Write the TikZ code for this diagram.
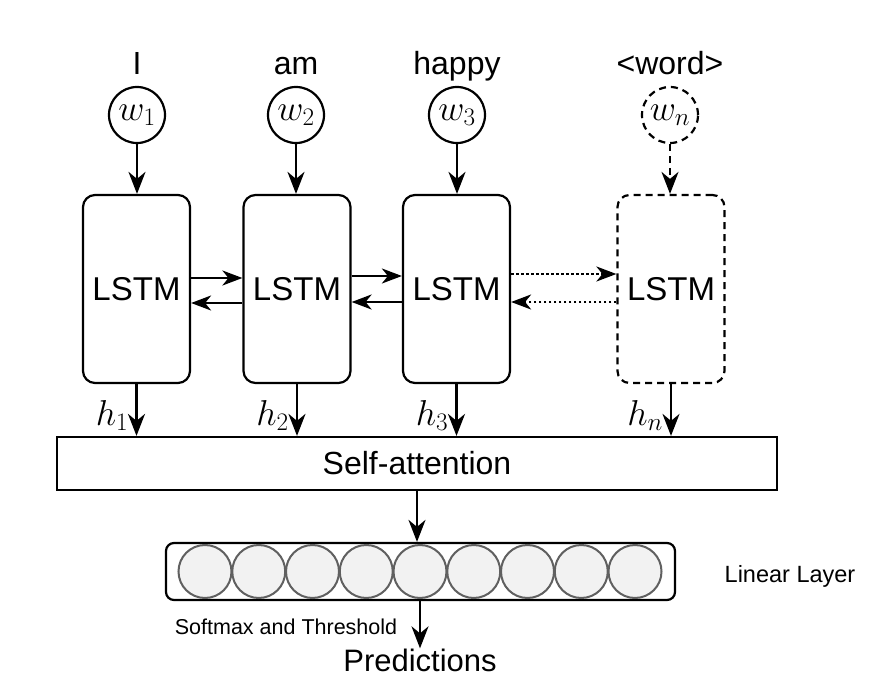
\RequirePackage{fix-cm}
\documentclass[tikz,border=0pt]{standalone}
\usepackage[no-math]{fontspec}
\setmainfont{Liberation Sans}
\usetikzlibrary{arrows.meta}

\tikzset{
  bigtxt/.style={font=\fontsize{32}{36}\selectfont, inner sep=0pt},
  smalltxt/.style={font=\fontsize{21.5}{24}\selectfont, inner sep=0pt},
  wnode/.style={circle, draw, line width=2.2pt, minimum size=56pt, inner sep=0pt,
    font=\fontsize{36}{40}\selectfont},
  lstm/.style={draw, line width=2.2pt, rounded corners=12pt, minimum width=107pt,
    minimum height=188pt, font=\fontsize{33}{36}\selectfont},
  dashpat/.style={dash pattern=on 7pt off 5pt},
  dotpat/.style={dash pattern=on 2.5pt off 2.5pt},
  arr/.style={line width=2.2pt, -{Stealth[length=22pt,width=17pt,inset=7pt]}},
  harr/.style={line width=2.2pt, -{Stealth[length=20pt,width=15pt,inset=6pt]}},
  hlab/.style={font=\fontsize{36}{40}\selectfont, inner sep=0pt, anchor=base east},
  unit/.style={circle, draw=gray!75!black, fill=gray!10, line width=2pt,
    minimum size=53pt, inner sep=0pt}
}

\begin{document}
\begin{tikzpicture}[x=1pt, y=-1pt]
   \useasboundingbox (0,0) rectangle (883,700);

   % input words
   \node[bigtxt, anchor=base] (t1) at (137,75) {I};
   \node[bigtxt, anchor=base] (t2) at (296,75) {am};
   \node[bigtxt, anchor=base] (t3) at (457,75) {happy};
   \node[bigtxt, anchor=base] (t4) at (670,75) {<word>};

   \node[wnode] (w1) at (137,115) {$w_1$};
   \node[wnode] (w2) at (296,115) {$w_2$};
   \node[wnode] (w3) at (457,115) {$w_3$};
   \node[wnode, dashpat] (w4) at (670,115) {$w_n$};

   % LSTM cells
   \node[lstm] (l1) at (136.5,289) {LSTM};
   \node[lstm] (l2) at (297,289) {LSTM};
   \node[lstm] (l3) at (456.5,289) {LSTM};
   \node[lstm, dashpat] (l4) at (671,289) {LSTM};

   \draw[arr] (w1.south) -- (w1.south |- l1.north);
   \draw[arr] (w2.south) -- (w2.south |- l2.north);
   \draw[arr] (w3.south) -- (w3.south |- l3.north);
   \draw[arr, dashpat] (w4.south) -- (w4.south |- l4.north);

   \draw[harr] ([yshift=11pt]l1.east) -- ([yshift=11pt]l2.west);
   \draw[harr] ([yshift=-14pt]l2.west) -- ([yshift=-14pt]l1.east);
   \draw[harr] ([yshift=13pt]l2.east) -- ([yshift=13pt]l3.west);
   \draw[harr] ([yshift=-13pt]l3.west) -- ([yshift=-13pt]l2.east);
   \draw[harr, dotpat] ([yshift=15pt]l3.east) -- ([yshift=15pt]l4.west);
   \draw[harr, dotpat] ([yshift=-13pt]l4.west) -- ([yshift=-13pt]l3.east);

   % attention
   \node[draw, line width=2.2pt, minimum width=720pt, minimum height=53pt,
     font=\fontsize{32}{36}\selectfont] (att) at (417,463.5) {Self-attention};

   \coordinate (hrow) at (0,425);
   \draw[arr] (l1.south) -- (l1.south |- att.north);
   \draw[arr] (l2.south) -- (l2.south |- att.north);
   \draw[arr] (l3.south) -- (l3.south |- att.north);
   \draw[arr] (l4.south) -- (l4.south |- att.north);
   \node[hlab] (h1) at ([xshift=-8pt]l1.south |- hrow) {$h_1$};
   \node[hlab] (h2) at ([xshift=-8pt]l2.south |- hrow) {$h_2$};
   \node[hlab] (h3) at ([xshift=-8pt]l3.south |- hrow) {$h_3$};
   \node[hlab] (h4) at ([xshift=-8pt]l4.south |- hrow) {$h_n$};

   % linear layer
   \node[draw, line width=2.2pt, rounded corners=8pt, minimum width=509pt,
     minimum height=57pt] (lin) at (420.5,571.5) {};
   \foreach \i in {0,...,8}
     \node[unit] (u\i) at (205+53.75*\i,571.5) {};
   \node[smalltxt, anchor=base, font=\fontsize{23.5}{26}\selectfont] (linlab) at (790,582) {Linear Layer};

   \draw[arr] (att.south) -- (att.south |- lin.north);

   % output
   \node[bigtxt, anchor=base, font=\fontsize{31}{34}\selectfont] (pred) at (420,671) {Predictions};
   \draw[arr] (lin.south -| pred.north) -- (pred.north);
   \node[smalltxt, anchor=base] (soft) at (286,634) {Softmax and Threshold};
\end{tikzpicture}
\end{document}
